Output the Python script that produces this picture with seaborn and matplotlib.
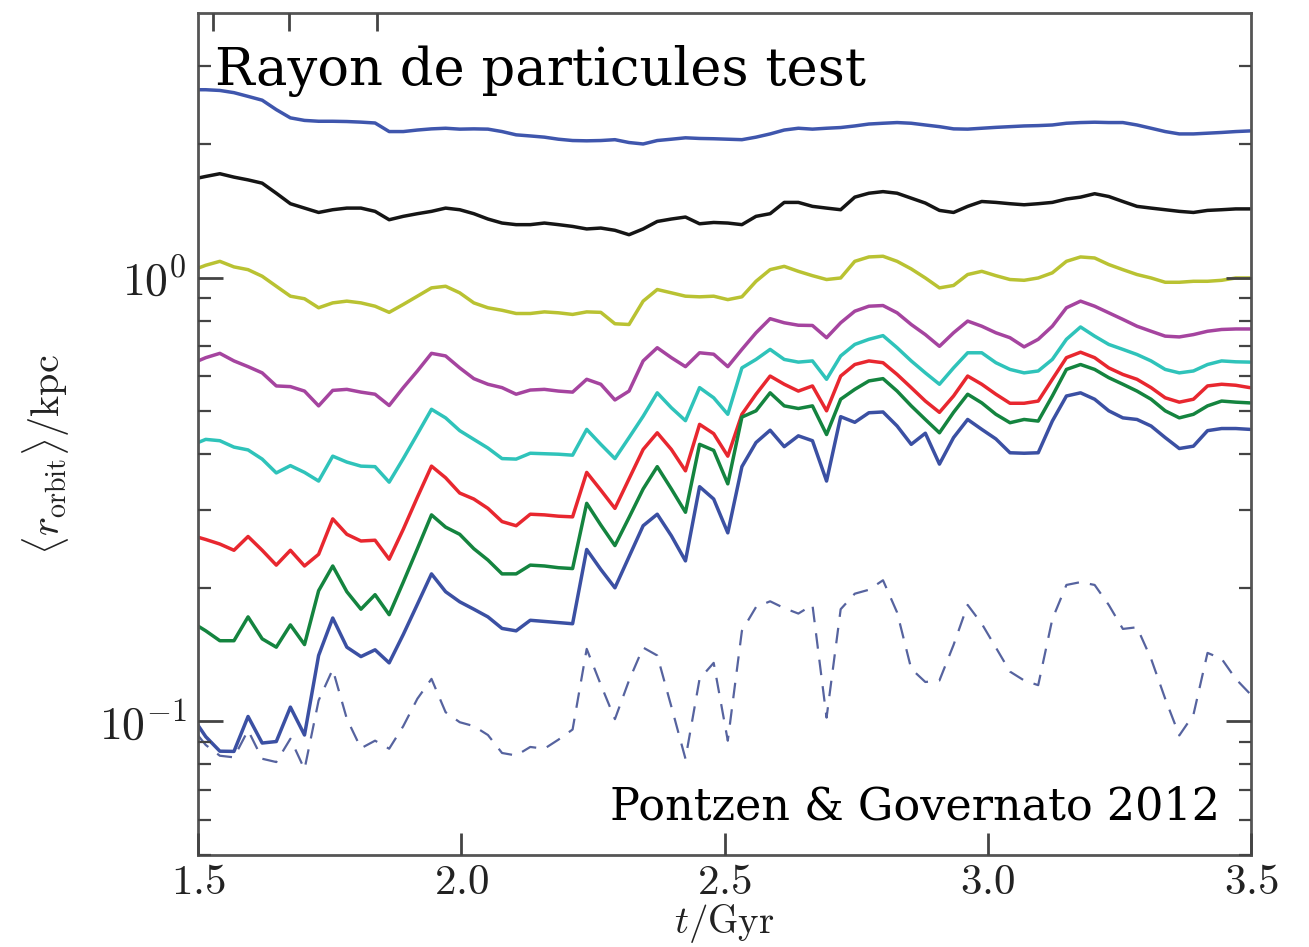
import numpy as np
import pandas as pd
import matplotlib
matplotlib.use("Agg")
import matplotlib.pyplot as plt
import seaborn as sns
from matplotlib.ticker import FixedLocator, FuncFormatter, NullFormatter, LogLocator

# ---------------- data ----------------
time_gyr = np.concatenate([[1.5], np.round(1.5146 + 0.0268 * np.arange(75), 4)])

r_outer_blue = [2.65, 2.65, 2.64, 2.61, 2.56, 2.51, 2.39, 2.29, 2.26, 2.25, 2.25, 2.247, 2.24, 2.23, 2.133,
                2.133, 2.15, 2.163, 2.17, 2.16, 2.163, 2.16, 2.133, 2.097, 2.085, 2.072, 2.05, 2.036, 2.033,
                2.036, 2.045, 2.015, 2.0, 2.036, 2.05, 2.065, 2.058, 2.055, 2.05, 2.045, 2.072, 2.107, 2.15,
                2.17, 2.16, 2.17, 2.178, 2.196, 2.218, 2.227, 2.235, 2.227, 2.207, 2.188, 2.163, 2.16, 2.17,
                2.18, 2.188, 2.196, 2.20, 2.207, 2.227, 2.235, 2.239, 2.235, 2.235, 2.207, 2.17, 2.133,
                2.107, 2.107, 2.115, 2.123, 2.133, 2.14]

r_black = [1.676, 1.69, 1.714, 1.684, 1.66, 1.632, 1.549, 1.467, 1.434, 1.402, 1.422, 1.434, 1.434, 1.41,
           1.35, 1.374, 1.393, 1.41, 1.434, 1.422, 1.393, 1.355, 1.327, 1.316, 1.316, 1.327, 1.316, 1.304,
           1.287, 1.293, 1.278, 1.249, 1.287, 1.338, 1.355, 1.369, 1.322, 1.331, 1.327, 1.316, 1.374, 1.393,
           1.477, 1.477, 1.447, 1.434, 1.422, 1.518, 1.549, 1.562, 1.549, 1.51, 1.472, 1.417, 1.402, 1.447,
           1.484, 1.477, 1.467, 1.459, 1.467, 1.477, 1.503, 1.518, 1.545, 1.523, 1.484, 1.447, 1.434, 1.422,
           1.41, 1.402, 1.417, 1.422, 1.428, 1.428]

r_yellow = [1.05, 1.066, 1.088, 1.057, 1.042, 1.007, 0.956, 0.908, 0.896, 0.855, 0.877, 0.885, 0.877, 0.862,
            0.835, 0.870, 0.908, 0.948, 0.956, 0.924, 0.877, 0.855, 0.844, 0.830, 0.830, 0.837, 0.833, 0.826,
            0.837, 0.835, 0.787, 0.784, 0.885, 0.940, 0.924, 0.908, 0.905, 0.908, 0.892, 0.905, 0.981, 1.042,
            1.06, 1.033, 1.01, 0.99, 0.998, 1.088, 1.113, 1.117, 1.088, 1.046, 0.998, 0.948, 0.96, 1.016,
            1.033, 1.01, 0.99, 0.986, 0.998, 1.025, 1.088, 1.113, 1.107, 1.07, 1.042, 1.016, 0.998, 0.976,
            0.976, 0.981, 0.981, 0.986, 0.998, 0.998]

r_magenta = [0.649, 0.66, 0.675, 0.649, 0.63, 0.61, 0.57, 0.568, 0.555, 0.514, 0.557, 0.56, 0.552, 0.546,
             0.515, 0.565, 0.616, 0.675, 0.666, 0.626, 0.592, 0.575, 0.565, 0.546, 0.558, 0.56, 0.555, 0.552,
             0.59, 0.575, 0.53, 0.555, 0.649, 0.695, 0.66, 0.63, 0.677, 0.672, 0.63, 0.689, 0.751, 0.808,
             0.791, 0.781, 0.78, 0.732, 0.791, 0.84, 0.862, 0.865, 0.833, 0.784, 0.744, 0.70, 0.751, 0.798,
             0.777, 0.751, 0.732, 0.698, 0.726, 0.777, 0.855, 0.885, 0.862, 0.833, 0.805, 0.777, 0.757, 0.738,
             0.735, 0.744, 0.757, 0.764, 0.766, 0.766]

r_cyan = [0.425, 0.432, 0.429, 0.415, 0.409, 0.39, 0.363, 0.377, 0.364, 0.348, 0.396, 0.384, 0.376, 0.375,
          0.346, 0.391, 0.444, 0.505, 0.483, 0.452, 0.432, 0.413, 0.391, 0.39, 0.402, 0.401, 0.40, 0.398,
          0.455, 0.421, 0.391, 0.436, 0.487, 0.55, 0.509, 0.476, 0.565, 0.536, 0.492, 0.626, 0.654, 0.689,
          0.654, 0.645, 0.649, 0.59, 0.666, 0.707, 0.726, 0.74, 0.695, 0.649, 0.61, 0.575, 0.626, 0.677,
          0.677, 0.643, 0.621, 0.61, 0.616, 0.654, 0.726, 0.774, 0.738, 0.707, 0.689, 0.671, 0.649, 0.621,
          0.61, 0.616, 0.637, 0.649, 0.646, 0.645]

r_red = [0.26, 0.257, 0.251, 0.243, 0.261, 0.243, 0.225, 0.243, 0.224, 0.238, 0.286, 0.264, 0.255, 0.256,
         0.232, 0.271, 0.32, 0.376, 0.354, 0.327, 0.317, 0.302, 0.282, 0.276, 0.293, 0.292, 0.29, 0.289,
         0.364, 0.332, 0.302, 0.352, 0.41, 0.447, 0.41, 0.367, 0.467, 0.445, 0.396, 0.492, 0.546, 0.60,
         0.575, 0.555, 0.57, 0.501, 0.60, 0.637, 0.649, 0.643, 0.605, 0.565, 0.527, 0.497, 0.541, 0.60,
         0.575, 0.546, 0.521, 0.521, 0.527, 0.59, 0.66, 0.679, 0.66, 0.626, 0.605, 0.59, 0.565, 0.536,
         0.524, 0.532, 0.57, 0.575, 0.572, 0.565]

r_green = [0.164, 0.16, 0.152, 0.152, 0.172, 0.1535, 0.147, 0.165, 0.149, 0.197, 0.224, 0.196, 0.179, 0.193,
           0.174, 0.206, 0.245, 0.292, 0.274, 0.264, 0.245, 0.231, 0.215, 0.215, 0.225, 0.224, 0.222, 0.221,
           0.31, 0.277, 0.249, 0.288, 0.334, 0.375, 0.334, 0.296, 0.421, 0.408, 0.343, 0.485, 0.501, 0.55,
           0.514, 0.507, 0.514, 0.443, 0.532, 0.56, 0.585, 0.592, 0.555, 0.514, 0.479, 0.447, 0.497, 0.546,
           0.522, 0.492, 0.471, 0.479, 0.475, 0.541, 0.621, 0.637, 0.621, 0.595, 0.575, 0.555, 0.532, 0.501,
           0.483, 0.492, 0.514, 0.527, 0.524, 0.522]

r_inner_blue = [0.098, 0.0924, 0.0857, 0.0856, 0.1026, 0.0894, 0.0901, 0.1077, 0.0932, 0.1408, 0.171, 0.147,
                0.14, 0.145, 0.1355, 0.157, 0.1836, 0.215, 0.196, 0.186, 0.179, 0.172, 0.162, 0.16, 0.169,
                0.168, 0.167, 0.166, 0.244, 0.22, 0.20, 0.235, 0.276, 0.293, 0.262, 0.23, 0.338, 0.317, 0.266,
                0.375, 0.425, 0.453, 0.416, 0.44, 0.429, 0.348, 0.486, 0.472, 0.496, 0.498, 0.463, 0.421, 0.446,
                0.38, 0.436, 0.479, 0.455, 0.433, 0.403, 0.402, 0.403, 0.475, 0.541, 0.55, 0.532, 0.501, 0.483,
                0.479, 0.463, 0.436, 0.412, 0.417, 0.452, 0.457, 0.457, 0.455]

r_dashed = [0.093, 0.0885, 0.0837, 0.083, 0.0955, 0.0824, 0.081, 0.0914, 0.078, 0.1115, 0.131, 0.1014, 0.087,
            0.0905, 0.0868, 0.0976, 0.1125, 0.1247, 0.1049, 0.0996, 0.0976, 0.0932, 0.0849, 0.0838, 0.0876,
            0.0868, 0.091, 0.0959, 0.1457, 0.121, 0.1012, 0.1237, 0.1467, 0.1408, 0.108, 0.0824, 0.1247,
            0.1355, 0.0905, 0.16, 0.181, 0.1865, 0.18, 0.175, 0.183, 0.102, 0.179, 0.194, 0.198, 0.208, 0.176,
            0.1314, 0.1227, 0.1237, 0.1487, 0.183, 0.166, 0.1467, 0.1295, 0.1237, 0.1207, 0.17, 0.203, 0.206,
            0.203, 0.183, 0.1616, 0.163, 0.1384, 0.1125, 0.093, 0.1035, 0.1427, 0.1384, 0.1247, 0.1155]

x_ticks = [1.5, 2.0, 2.5, 3.0, 3.5]
top_ticks = [1.529, 1.673, 1.840]
y_major = [0.1, 1.0]
title_text = "Rayon de particules test"
credit_text = "Pontzen & Governato 2012"

# ---------------- style ----------------
sns.set_theme(style="ticks", rc={"xtick.direction": "in", "ytick.direction": "in",
                                 "xtick.bottom": True, "ytick.left": True,
                                 "ytick.right": True, "xtick.top": True})
plt.rcParams["font.family"] = ["DejaVu Serif", "Liberation Serif"]
plt.rcParams["mathtext.fontset"] = "cm"

fig = plt.figure(figsize=(13.09, 9.47), dpi=100)
ax = fig.add_axes([0.1513, 0.0971, 0.8044, 0.8894])

series = [
    (r_outer_blue, "#3f56ad"),
    (r_black, "#151515"),
    (r_yellow, "#b9c232"),
    (r_magenta, "#a5449f"),
    (r_cyan, "#2fc3ba"),
    (r_red, "#e8272f"),
    (r_green, "#14843f"),
    (r_inner_blue, "#3b50a3"),
]
for vals, col in series:
    sns.lineplot(x=time_gyr, y=vals, ax=ax, color=col, linewidth=2.5, legend=False, zorder=2)

sns.lineplot(x=time_gyr, y=r_dashed, ax=ax, color="#56639f", linewidth=1.6, legend=False, zorder=2)
ax.lines[-1].set_dashes([7, 5])

ax.set_yscale("log")
ax.set_xlim(1.5, 3.5)
ax.set_ylim(0.05, 3.95)

ax.xaxis.set_major_locator(FixedLocator(x_ticks))
ax.xaxis.set_major_formatter(FuncFormatter(lambda v, p: f"${v:.1f}$"))
ax.xaxis.set_minor_locator(FixedLocator(top_ticks))
ax.xaxis.set_minor_formatter(NullFormatter())
ax.yaxis.set_major_locator(FixedLocator(y_major))
ax.yaxis.set_major_formatter(FuncFormatter(lambda v, p: f"$10^{{{int(round(np.log10(v)))}}}$"))
ax.yaxis.set_minor_locator(LogLocator(base=10, subs=np.arange(2, 10)))
ax.yaxis.set_minor_formatter(NullFormatter())

ax.tick_params(axis="x", which="major", direction="in", length=16, width=2.0, color="#444444",
               labelcolor="#222222", labelsize=31, bottom=True, top=False, pad=4)
ax.tick_params(axis="x", which="minor", direction="in", length=13, width=2.0, color="#444444",
               bottom=False, top=True)
ax.tick_params(axis="y", which="major", direction="in", length=18, width=2.0, color="#444444",
               labelcolor="#222222", labelsize=33, left=True, right=True, pad=8)
ax.tick_params(axis="y", which="minor", direction="in", length=9, width=1.6, color="#444444",
               left=True, right=True)
ax.set_axisbelow(False)
for s in ax.spines.values():
    s.set_visible(True)
    s.set_color("#555555")
    s.set_linewidth(2.0)

ax.set_xlabel(r"$t/{\rm Gyr}$", fontsize=28, color="#222222")
ax.xaxis.set_label_coords(0.5, -0.056)
ax.set_ylabel(r"$\langle r_{\rm orbit}\rangle/{\rm kpc}$", fontsize=29, color="#222222")
ax.yaxis.set_label_coords(-0.12, 0.475)

ax.text(0.016, 0.914, title_text, transform=ax.transAxes, fontsize=38, va="baseline", ha="left",
        color="black")
ax.text(0.391, 0.042, credit_text, transform=ax.transAxes, fontsize=32, va="baseline", ha="left",
        color="black")

fig.savefig("out.png", dpi=100, facecolor="white")
